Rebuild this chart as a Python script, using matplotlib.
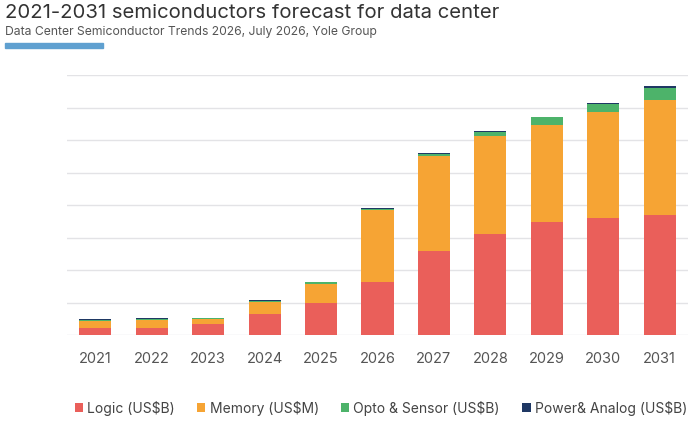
import numpy as np
import matplotlib
matplotlib.use('Agg')
import matplotlib.pyplot as plt
from matplotlib.patches import Patch, Rectangle

plt.rcParams['font.family'] = ['Inter', 'DejaVu Sans']

# values in US$B-like units (gridline step = 50)
years = ['2021', '2022', '2023', '2024', '2025', '2026', '2027', '2028', '2029', '2030', '2031']
logic = [10.8, 10.8, 16.5, 32.8, 49.7, 82.0, 129.7, 155.8, 173.4, 180.0, 185.1]
memory = [10.8, 12.3, 7.7, 18.5, 28.8, 110.3, 146.2, 150.3, 149.7, 162.6, 176.5]
opto = [1.8, 1.2, 1.5, 1.2, 2.6, 2.3, 2.3, 5.7, 11.8, 13.2, 18.9]
power = [1.2, 1.1, 0.8, 0.8, 0.8, 0.8, 1.5, 1.5, 1.1, 1.5, 2.3]

series_names = ['Logic (US$B)', 'Memory (US$M)', 'Opto & Sensor (US$B)', 'Power& Analog (US$B)']
colors = ['#EA5F5A', '#F6A434', '#4DB36A', '#1F3864']

fig = plt.figure(figsize=(7, 4.22), dpi=100)
ax = fig.add_axes([67/700, 1 - 335/422, 621/700, 260/422])

x = np.arange(len(years))
bottom = np.zeros(len(years))
for vals, c in zip([logic, memory, opto, power], colors):
    ax.bar(x, vals, width=0.57, bottom=bottom, color=c, zorder=3, linewidth=0)
    bottom += np.array(vals)

ax.set_xlim(-0.5, len(years) - 0.5)
ax.set_ylim(0, 400)
ax.set_yticks(np.arange(0, 401, 50))
ax.yaxis.grid(True, color='#e3e3e6', linewidth=1)
ax.set_axisbelow(True)
ax.tick_params(axis='y', left=False, labelleft=False)
ax.tick_params(axis='x', bottom=False, labelsize=10.5, labelcolor='#555555', pad=9)
ax.set_xticks(x)
ax.set_xticklabels(years)
for s in ax.spines.values():
    s.set_visible(False)

fig.text(5/700, 1 - 13/422, '2021-2031 semiconductors forecast for data center',
         fontsize=14.6, color='#333333', va='center', ha='left')
fig.text(5/700, 1 - 32/422, 'Data Center Semiconductor Trends 2026, July 2026, Yole Group',
         fontsize=8.75, color='#555555', va='center', ha='left')
fig.patches.append(Rectangle((5/700, 1 - 47.5/422), 98/700, 4.5/422,
                             transform=fig.transFigure, color='#5FA0D0', figure=fig))

handles = [Patch(facecolor=c, edgecolor='none') for c in colors]
fig.legend(handles, series_names, loc='center', bbox_to_anchor=(0.544, 1 - 408/422),
           ncol=4, frameon=False, fontsize=10, handlelength=0.6, handleheight=0.6,
           handletextpad=0.3, columnspacing=1.6, labelcolor='#444444')

fig.savefig('out.png', dpi=100)
